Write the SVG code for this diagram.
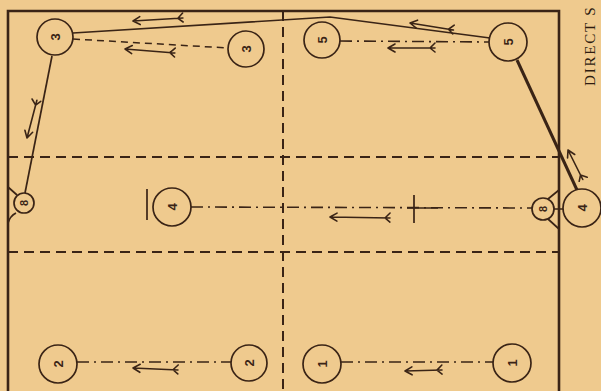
<svg xmlns="http://www.w3.org/2000/svg" width="601" height="391" viewBox="0 0 601 391">
<style>
.bg{fill:#EFCA8E}
.frame{fill:none;stroke:#3a2416;stroke-width:2.6}
.div{fill:none;stroke:#3a2416;stroke-width:2;stroke-dasharray:10 6}
.dash{fill:none;stroke:#3a2416;stroke-width:1.5;stroke-dasharray:7 5}
.dd{fill:none;stroke:#3a2416;stroke-width:1.6;stroke-dasharray:12 5 2 5}
.solid{fill:none;stroke:#3a2416;stroke-width:1.7}
.thick{fill:none;stroke:#3a2416;stroke-width:3}
.arr{fill:none;stroke:#3a2416;stroke-width:1.6;stroke-linecap:round}
.node circle{fill:#EFCA8E;stroke:#3a2416;stroke-width:1.7}
.node text{font-family:"Liberation Sans",Arial,sans-serif;font-size:13px;font-weight:bold;fill:#3a2416;text-anchor:middle}
.title{font-family:"Liberation Serif","Times New Roman",serif;font-size:15px;fill:#2e1c10;letter-spacing:1.8px}
</style>
<rect class="bg" x="0" y="0" width="601" height="391"/>
<g id="court">
<path class="frame" d="M8,391 V11 H559 V391"/>
<path class="div" d="M283,11 V391"/>
<path class="div" d="M8,157 H559"/>
<path class="div" d="M8,252 H559"/>
</g>
<g id="connectors">
<path class="solid" d="M73,33 L330,17 L490,38"/>
<path class="solid" d="M52,56 L25,193"/>
<path class="thick" d="M517,60 L577,190"/>
<path class="dash" d="M73,39 L228,48"/>
<path class="dd" d="M340,41 L489,42"/>
<path class="dd" d="M191,207 L532,208"/>
<path class="solid" d="M407,208 H438 M414,195 V223"/>
<path class="solid" d="M147,189 V220"/>
<path class="dd" d="M77,362 L231,362"/>
<path class="dd" d="M341,362 L493,362"/>
<path class="solid" d="M8,187 L17,195 M8,223 Q10,216 16,213"/>
<path class="solid" d="M559,190 L548,199 M559,229 L548,219 M554,209 H563"/>
<g class="arr">
<path transform="translate(133,21) rotate(-3.4)" d="M0,0 H50 M0,0 l7,-4 M0,0 l7,4 M45,0 l5,-5 M45,0 l5,4"/>
<path transform="translate(125,49) rotate(4.6)" d="M0,0 H50 M0,0 l7,-4 M0,0 l7,4 M45,0 l5,-5 M45,0 l5,4"/>
<path transform="translate(27,138) rotate(-75.3)" d="M0,0 H39 M0,0 l7,-4 M0,0 l7,4 M34,0 l5,-5 M34,0 l5,4"/>
<path transform="translate(410,23) rotate(9.2)" d="M0,0 H44 M0,0 l7,-4 M0,0 l7,4 M39,0 l5,-5 M39,0 l5,4"/>
<path transform="translate(388,48) rotate(0)" d="M0,0 H47 M0,0 l7,-4 M0,0 l7,4 M42,0 l5,-5 M42,0 l5,4"/>
<path transform="translate(568,150) rotate(63.4)" d="M0,0 H33 M0,0 l7,-4 M0,0 l7,4 M28,0 l5,-5 M28,0 l5,4"/>
<path transform="translate(330,217) rotate(1)" d="M0,0 H60 M0,0 l7,-4 M0,0 l7,4 M55,0 l5,-5 M55,0 l5,4"/>
<path transform="translate(133,368) rotate(2.5)" d="M0,0 H45 M0,0 l7,-4 M0,0 l7,4 M40,0 l5,-5 M40,0 l5,4"/>
<path transform="translate(405,371) rotate(-1.5)" d="M0,0 H37 M0,0 l7,-4 M0,0 l7,4 M32,0 l5,-5 M32,0 l5,4"/>
</g>
</g>
<g id="n3a" class="node"><circle cx="55" cy="37" r="18"/><text transform="translate(55,37) rotate(-90)" dy="0.36em">3</text></g>
<g id="n3b" class="node"><circle cx="246" cy="49" r="18"/><text transform="translate(246,49) rotate(-90)" dy="0.36em">3</text></g>
<g id="n5a" class="node"><circle cx="322" cy="40" r="18"/><text transform="translate(322,40) rotate(-90)" dy="0.36em">5</text></g>
<g id="n5b" class="node"><circle cx="508" cy="42" r="19"/><text transform="translate(508,42) rotate(-90)" dy="0.36em">5</text></g>
<g id="n8a" class="node"><circle cx="24" cy="203" r="10"/><text transform="translate(24,203) rotate(-90)" dy="0.36em" style="font-size:11px">8</text></g>
<g id="n4a" class="node"><circle cx="172" cy="207" r="19"/><text transform="translate(172,207) rotate(-90)" dy="0.36em">4</text></g>
<g id="n8b" class="node"><circle cx="543" cy="209" r="11"/><text transform="translate(543,209) rotate(-90)" dy="0.36em" style="font-size:11px">8</text></g>
<g id="n4b" class="node"><circle cx="582" cy="208" r="19"/><text transform="translate(582,208) rotate(-90)" dy="0.36em">4</text></g>
<g id="n2a" class="node"><circle cx="58" cy="364" r="19"/><text transform="translate(58,364) rotate(-90)" dy="0.36em">2</text></g>
<g id="n2b" class="node"><circle cx="249" cy="363" r="18"/><text transform="translate(249,363) rotate(-90)" dy="0.36em">2</text></g>
<g id="n1a" class="node"><circle cx="322" cy="364" r="19"/><text transform="translate(322,364) rotate(-90)" dy="0.36em">1</text></g>
<g id="n1b" class="node"><circle cx="512" cy="363" r="19"/><text transform="translate(512,363) rotate(-90)" dy="0.36em">1</text></g>
<text class="title" transform="translate(595,86) rotate(-90)">DIRECT S</text>
</svg>
